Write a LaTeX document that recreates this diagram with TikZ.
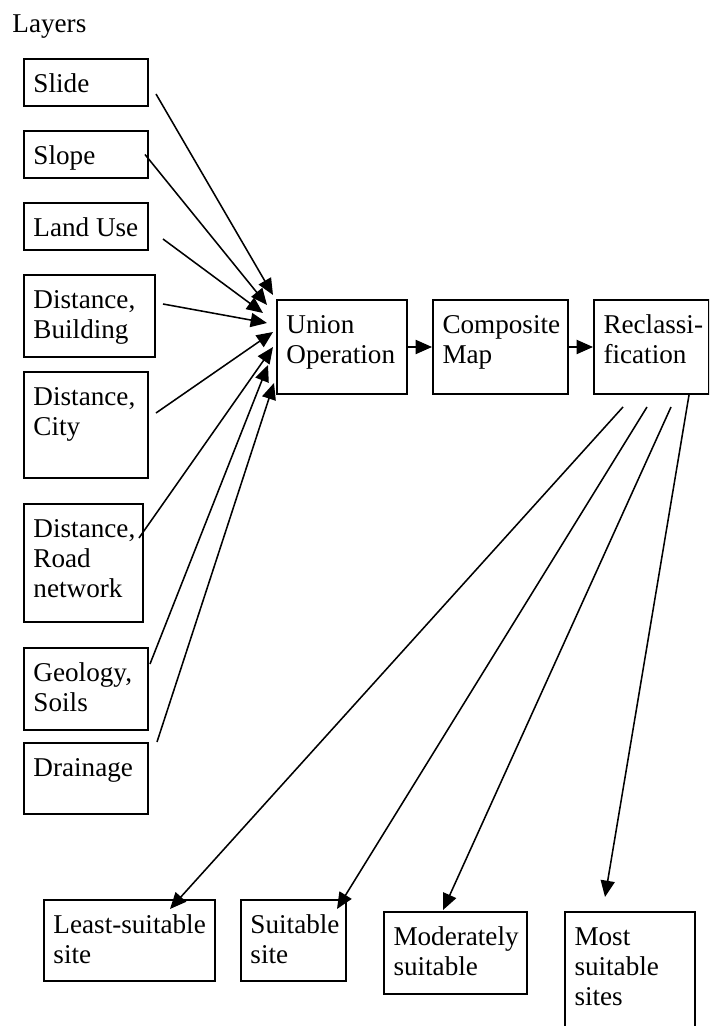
\documentclass[tikz,border=0pt]{standalone}
\usepackage{fontspec}
\setmainfont{Liberation Serif}
\usetikzlibrary{arrows.meta}
\tikzset{>={Triangle[length=7.4pt,width=6.4pt]}}
\newdimen\pxu
\pxu=0.453pt
\tikzstyle{link}=[->,line width=0.7pt]
\tikzset{box/.style 2 args={draw,line width=0.9pt,anchor=north west,inner sep=0pt,
    execute at begin node={\begin{minipage}[t][#2\pxu][t]{#1\pxu}\raggedright
      \leftskip=9.5\pxu\rule{0pt}{33.5\pxu}},
    execute at end node={\end{minipage}}}}

\begin{document}
\begin{tikzpicture}[x=0.453pt,y=-0.453pt]
  \tikzstyle{every node}=[font=\fontsize{12.3}{13.6}\selectfont]
  \path[use as bounding box,clip] (0,0) rectangle (709,1026);

  \node[anchor=base west,inner sep=0pt] (layers) at (12,33) {Layers};

  % layers
  \node[box={124}{47}] (slide) at (23,58) {Slide};
  \node[box={124}{47}] (slope) at (23,130) {Slope};
  \node[box={124}{47}] (landuse) at (23,202) {Land Use};
  \node[box={131}{82}] (building) at (23,274) {Distance,\\Building};
  \node[box={124}{106}] (city) at (23,371) {Distance,\\City};
  \node[box={119}{118}] (road) at (23,503) {Distance,\\Road\\network};
  \node[box={124}{82}] (geology) at (23,647) {Geology,\\Soils};
  \node[box={124}{71}] (drainage) at (23,742) {Drainage};

  % operations
  \node[box={130}{94}] (union) at (276,299) {Union\\Operation};
  \node[box={135}{94}] (composite) at (432,299) {Composite\\Map};
  \node[box={115}{94}] (reclass) at (593,299) {Reclassi-\\fication};

  % sites
  \node[box={171}{81}] (least) at (43,899) {Least-suitable\\site};
  \node[box={105}{81}] (suitable) at (240,899) {Suitable\\site};
  \node[box={143}{82}] (moderate) at (383,911) {Moderately\\suitable};
  \node[box={130}{125}] (most) at (564,911) {Most\\suitable\\sites};

  % into the union
  \draw[link] ([shift={(7,11.5)}]slide.east) -- ([shift={(-3,-4)}]union.north west);
  \draw[link] ([shift={(-4,0)}]slope.east) -- ([shift={(-9,6)}]union.north west);
  \draw[link] ([shift={(14,12.5)}]landuse.east) -- ([shift={(-13,14)}]union.north west);
  \draw[link] ([shift={(7,-12)}]building.east) -- ([shift={(-9,24)}]union.north west);
  \draw[link] ([shift={(7,-12)}]city.east) -- ([shift={(-3,33)}]union.north west);
  \draw[link] ([shift={(-5,-25)}]road.east) -- ([shift={(-3,48)}]union.north west);
  \draw[link] ([shift={(1,-25)}]geology.east) -- ([shift={(-8,66)}]union.north west);
  \draw[link] ([shift={(8,0)}]drainage.north east) -- ([shift={(-2,84)}]union.north west);

  \draw[link] (union) -- (composite);
  \draw[link] (composite) -- (reclass);

  % out of the reclassification
  \draw[link] ([shift={(30,12)}]reclass.south west) -- ([shift={(-46,10)}]least.north east);
  \draw[link] ([shift={(54,12)}]reclass.south west) -- ([shift={(-10,10)}]suitable.north east);
  \draw[link] ([shift={(78,12)}]reclass.south west) -- ([shift={(60,-1)}]moderate.north west);
  \draw[link] ([shift={(96,0)}]reclass.south west) -- ([shift={(41,-14)}]most.north west);

\end{tikzpicture}
\end{document}
